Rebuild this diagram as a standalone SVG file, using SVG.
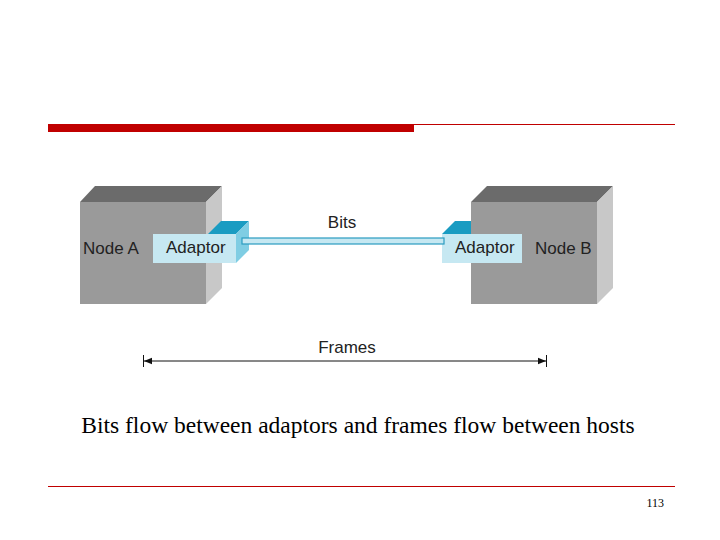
<svg xmlns="http://www.w3.org/2000/svg" width="720" height="540" viewBox="0 0 720 540">
<style>
.lbl{font-family:"Liberation Sans",Arial,sans-serif;font-size:17px;fill:#222}
.front{fill:#9a9a9a}.top{fill:#6b6b6b}.side{fill:#c8c8c8}
.af{fill:#c6e8f2}.at{fill:#1a9cc2}.as{fill:#7fcde3}
</style>
<defs>
<marker id="ah" viewBox="0 0 10 10" refX="10" refY="5" markerWidth="10" markerHeight="8" orient="auto-start-reverse" markerUnits="userSpaceOnUse"><path d="M0,1 L10,5 L0,9 Z" fill="#111"/></marker>
</defs>
<rect x="48" y="124" width="366" height="8" fill="#c00000"/>
<line x1="414" y1="124.5" x2="675" y2="124.5" stroke="#c00000" stroke-width="1"/>
<line x1="48" y1="486.5" x2="675" y2="486.5" stroke="#c00000" stroke-width="1"/>
<g id="nodeA">
<polygon class="top" points="80,202 95,186 222,186 206,202"/>
<polygon class="side" points="206,202 222,186 222,288 206,304"/>
<rect class="front" x="80" y="202" width="126" height="102"/>
<text class="lbl" x="83" y="254">Node A</text>
</g>
<g id="adaptorA">
<polygon class="at" points="208,234 221,221 249,221 236,234"/>
<polygon class="as" points="236,234 249,221 249,250 236,263"/>
<rect class="af" x="153" y="234" width="83" height="29"/>
<text class="lbl" x="166" y="253">Adaptor</text>
</g>
<g id="nodeB">
<polygon class="top" points="471,202 487,186 613,186 597,202"/>
<polygon class="side" points="597,202 613,186 613,288 597,304"/>
<rect class="front" x="471" y="202" width="126" height="102"/>
<text class="lbl" x="535" y="254">Node B</text>
</g>
<g id="adaptorB">
<polygon class="at" points="442,234 455,221 471,221 471,234"/>
<rect class="af" x="442" y="234" width="80" height="29"/>
<text class="lbl" x="455" y="253">Adaptor</text>
</g>
<g id="connectors">
<rect x="242" y="238" width="202" height="6" fill="#c6e8f2" stroke="#2a9cc0" stroke-width="1.2"/>
<line x1="144" y1="361" x2="546" y2="361" stroke="#111" stroke-width="1" marker-start="url(#ah)" marker-end="url(#ah)"/>
<line x1="143.5" y1="355" x2="143.5" y2="367" stroke="#111"/>
<line x1="546.5" y1="355" x2="546.5" y2="367" stroke="#111"/>
</g>
<text class="lbl" x="342" y="228" text-anchor="middle">Bits</text>
<text class="lbl" x="347" y="353" text-anchor="middle">Frames</text>
<text x="358" y="433" text-anchor="middle" font-family="Liberation Serif,serif" font-size="23.5" fill="#000">Bits flow between adaptors and frames flow between hosts</text>
<text x="664" y="507" text-anchor="end" font-family="Liberation Serif,serif" font-size="12" fill="#000">113</text>
</svg>
